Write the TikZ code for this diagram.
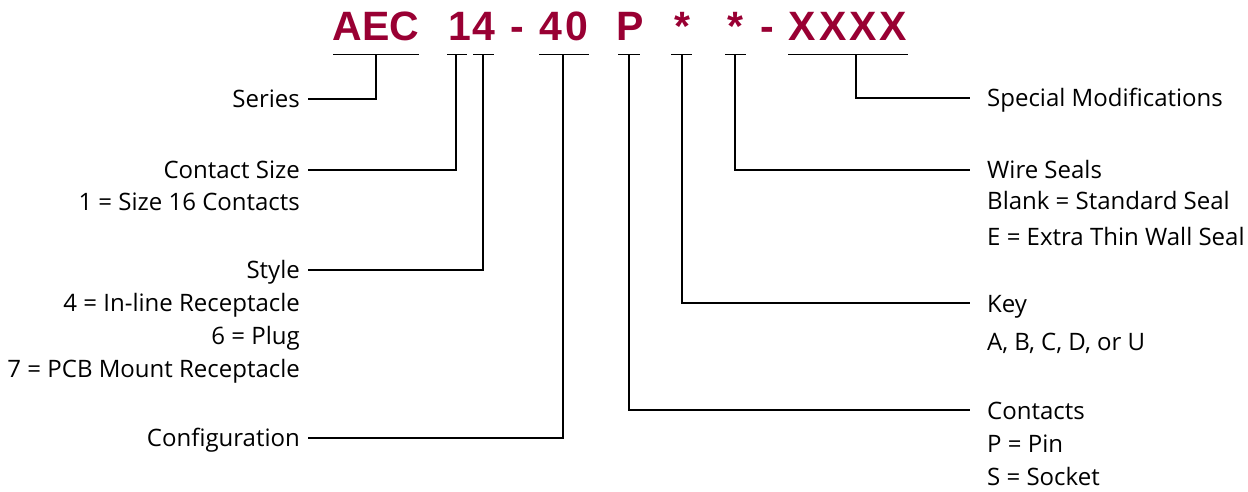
\documentclass[tikz,border=0pt]{standalone}
\usepackage{fontspec}
\setmainfont{Open Sans}
\newfontfamily\hdrfont{Liberation Sans}
\definecolor{crimson}{RGB}{153,0,51}
\tikzset{
  hdr/.style={anchor=base, inner sep=0pt, text=crimson,
    font=\hdrfont\bfseries\fontsize{41}{41}\selectfont},
  lbl/.style={inner sep=0pt, font=\fontsize{24}{24}\selectfont},
  lleft/.style={lbl, anchor=base east},
  lright/.style={lbl, anchor=base west},
  bar/.style={line width=1.8pt},
  conn/.style={line width=1.8pt}
}
\begin{document}
\begin{tikzpicture}[x=1pt,y=-1pt]
\useasboundingbox (0,0) rectangle (1248,492);
% header
\node[hdr] (aec) at (376,41) {AEC};
\node[hdr] (n14) at (472,41) {1\kern2pt 4};
\node[hdr] (d1) at (517,41) {-};
\node[hdr] (n40) at (564,41) {4\kern4pt 0};
\node[hdr] (pp) at (630,41) {P};
\node[hdr] (s1) at (682,41) {*};
\node[hdr] (s2) at (735,41) {*};
\node[hdr] (d2) at (767,41) {-};
\node[hdr] (xx) at (848,41) {X\kern3pt X\kern3pt X\kern3pt X};
% bars
\coordinate (b1a) at (333,54.5); \coordinate (b1b) at (419,54.5); \coordinate (m1) at (376,54.5);
\coordinate (b2a) at (447,54.5); \coordinate (b2b) at (467,54.5); \coordinate (m2) at (456,54.5);
\coordinate (b3a) at (473,54.5); \coordinate (b3b) at (494,54.5); \coordinate (m3) at (483,54.5);
\coordinate (b4a) at (539,54.5); \coordinate (b4b) at (589,54.5); \coordinate (m4) at (563,54.5);
\coordinate (b5a) at (618,54.5); \coordinate (b5b) at (640,54.5); \coordinate (m5) at (629,54.5);
\coordinate (b6a) at (671,54.5); \coordinate (b6b) at (692,54.5); \coordinate (m6) at (682,54.5);
\coordinate (b7a) at (725,54.5); \coordinate (b7b) at (746,54.5); \coordinate (m7) at (735,54.5);
\coordinate (b8a) at (788,54.5); \coordinate (b8b) at (908,54.5); \coordinate (m8) at (856,54.5);
\foreach \i in {1,...,8} { \draw[bar] (b\i a) -- (b\i b); }
% left labels
\node[lleft] (ser) at (300,107.5) {Series};
\node[lleft] (csz) at (300,178.5) {Contact Size};
\node[lleft] (csz1) at (300,210.5) {1 = Size 16 Contacts};
\node[lleft] (sty) at (300,278.5) {Style};
\node[lleft] (sty1) at (300,311.5) {4 = In-line Receptacle};
\node[lleft] (sty2) at (300,344.5) {6 = Plug};
\node[lleft] (sty3) at (300,377.5) {7 = PCB Mount Receptacle};
\node[lleft] (cfg) at (300,446.5) {Configuration};
% right labels
\node[lright] (spm) at (987,106.5) {Special Modifications};
\node[lright] (wse) at (987,178.5) {Wire Seals};
\node[lright] (wse1) at (987,209.5) {Blank = Standard Seal};
\node[lright] (wse2) at (987,245.5) {E = Extra Thin Wall Seal};
\node[lright] (key) at (987,312.5) {Key};
\node[lright] (key1) at (987,350.5) {A, B, C, D, or U};
\node[lright] (con) at (987,419.5) {Contacts};
\node[lright] (con1) at (987,452.5) {P = Pin};
\node[lright] (con2) at (987,485.5) {S = Socket};
% connectors
\draw[conn] (m1) |- ([shift={(8,-8.5)}]ser.base east);
\draw[conn] (m2) |- ([shift={(8,-8.5)}]csz.base east);
\draw[conn] (m3) |- ([shift={(8,-8.5)}]sty.base east);
\draw[conn] (m4) |- ([shift={(8,-8.5)}]cfg.base east);
\draw[conn] (m8) |- ([shift={(-17,-8.5)}]spm.base west);
\draw[conn] (m7) |- ([shift={(-17,-8.5)}]wse.base west);
\draw[conn] (m6) |- ([shift={(-17,-9.5)}]key.base west);
\draw[conn] (m5) |- ([shift={(-17,-9.5)}]con.base west);
\end{tikzpicture}
\end{document}
